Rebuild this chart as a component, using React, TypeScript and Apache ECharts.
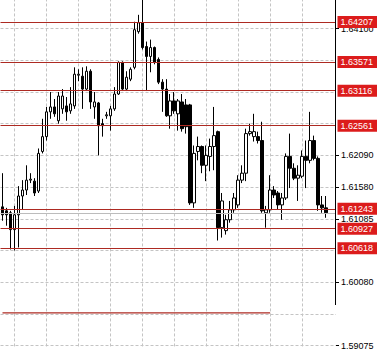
import React, { useEffect, useRef } from 'react';
import * as echarts from 'echarts';

// OHLC values (oldest -> newest)
const opens = [
  1.61274, 1.61211, 1.61180, 1.60913, 1.61148, 1.61446, 1.61541, 1.61698, 1.61682, 1.61525,
  1.62153, 1.62388, 1.62781, 1.62859, 1.62640, 1.62828, 1.62875, 1.62797, 1.62875, 1.63362,
  1.63346, 1.63142, 1.63425, 1.62859, 1.62922, 1.62593, 1.62718, 1.62718, 1.62828, 1.63064,
  1.63566, 1.63142, 1.63299, 1.63487, 1.64053, 1.64194, 1.63817, 1.63660, 1.63801, 1.63613,
  1.63252, 1.63142, 1.62718, 1.62954, 1.62750, 1.62938, 1.62891, 1.62891, 1.61337, 1.62153,
  1.62231, 1.61933, 1.62074, 1.62231, 1.62467, 1.60944, 1.60897, 1.61070, 1.61227, 1.61305,
  1.61698, 1.61808, 1.62436, 1.62388, 1.62388, 1.62326, 1.61180, 1.61227, 1.61541, 1.61494,
  1.61305, 1.61415, 1.62074, 1.61886, 1.61729, 1.61760, 1.62074, 1.62012, 1.62326, 1.62043,
  1.61305, 1.61258,
];
const closes = [
  1.61148, 1.61148, 1.60913, 1.61148, 1.61446, 1.61541, 1.61698, 1.61713, 1.61494, 1.62122,
  1.62388, 1.62781, 1.62859, 1.62750, 1.63032, 1.63032, 1.62781, 1.62907, 1.63378, 1.63378,
  1.63142, 1.63425, 1.62938, 1.62938, 1.62561, 1.62561, 1.62734, 1.62828, 1.63064, 1.63566,
  1.63142, 1.63330, 1.63456, 1.64084, 1.64194, 1.63801, 1.63660, 1.63801, 1.63566, 1.63252,
  1.63142, 1.62718, 1.62954, 1.62797, 1.62954, 1.62514, 1.62545, 1.61337, 1.62122, 1.62231,
  1.61933, 1.62090, 1.62231, 1.62404, 1.60944, 1.61368, 1.61070, 1.61227, 1.61415, 1.61698,
  1.61808, 1.62436, 1.62467, 1.62467, 1.62326, 1.61211, 1.61227, 1.61541, 1.61462, 1.61305,
  1.61415, 1.62074, 1.61886, 1.61729, 1.61776, 1.62074, 1.62012, 1.62326, 1.62043, 1.61305,
  1.61258, 1.61180,
];
const lows = [
  1.61054, 1.60975, 1.60599, 1.60583, 1.60630, 1.61227, 1.61462, 1.61651, 1.61446, 1.61494,
  1.62122, 1.62326, 1.62671, 1.62702, 1.62593, 1.62750, 1.62640, 1.62750, 1.62828, 1.63268,
  1.62828, 1.63111, 1.62828, 1.62671, 1.62090, 1.62388, 1.62671, 1.62483, 1.62797, 1.63048,
  1.63111, 1.63111, 1.63268, 1.63456, 1.64021, 1.63770, 1.63111, 1.63409, 1.63535, 1.63221,
  1.62781, 1.62702, 1.62514, 1.62750, 1.62483, 1.62467, 1.62436, 1.61305, 1.61258, 1.62012,
  1.61808, 1.61682, 1.61839, 1.61855, 1.60740, 1.60787, 1.60834, 1.61023, 1.61180, 1.61258,
  1.61651, 1.61682, 1.62404, 1.62310, 1.62279, 1.61180, 1.60944, 1.61180, 1.61415, 1.61227,
  1.61070, 1.61384, 1.61572, 1.61698, 1.61368, 1.61729, 1.61572, 1.61965, 1.62012, 1.61211,
  1.61180, 1.61101,
];
const highs = [
  1.61808, 1.61258, 1.61211, 1.61289, 1.61603, 1.61698, 1.61933, 1.61808, 1.61729, 1.62200,
  1.62671, 1.62859, 1.63095, 1.62985, 1.63095, 1.63142, 1.63016, 1.63173, 1.63487, 1.63456,
  1.63487, 1.63503, 1.63456, 1.63095, 1.62938, 1.62671, 1.62781, 1.62875, 1.63173, 1.63582,
  1.63582, 1.63425, 1.63487, 1.64210, 1.64320, 1.64560, 1.63896, 1.63927, 1.63817, 1.63644,
  1.63299, 1.63299, 1.63064, 1.63095, 1.62985, 1.63064, 1.62985, 1.62907, 1.62247, 1.62388,
  1.62247, 1.62247, 1.62357, 1.62859, 1.62483, 1.61494, 1.61148, 1.61368, 1.61494, 1.61776,
  1.61933, 1.62514, 1.62593, 1.62750, 1.62467, 1.62624, 1.61289, 1.61776, 1.61603, 1.61525,
  1.61494, 1.62122, 1.62436, 1.61965, 1.61933, 1.62169, 1.62326, 1.62781, 1.62404, 1.62074,
  1.61446, 1.61446,
];

// price scale: grid lines, and the labels that are visible (others hidden under level tags)
const gridValues = [1.641, 1.63598, 1.63095, 1.62593, 1.6209, 1.61588, 1.61085, 1.60583, 1.6008, 1.59578, 1.59075];
const gridLabels = ['1.64100', '', '', '', '1.62090', '1.61580', '1.61085', '', '1.60080', '', '1.59075'];
const yMin = 1.5906;
const yMax = 1.64555;

// horizontal price levels
const levelValues = [1.64207, 1.63571, 1.63116, 1.62561, 1.61243, 1.60927, 1.60618];
const trendValue = 1.59593;
const trendStart = 0;
const trendEnd = 67;

// vertical grid (bar indexes)
const vGridIndexes = [3, 11, 19, 27, 35, 43, 51, 59, 67, 75];
const slotCount = 84;
const categories = Array.from({ length: slotCount }, (_, i) => String(i));

export default function App() {
  const ref = useRef<HTMLDivElement>(null);
  useEffect(() => {
    if (!ref.current) return;
    const chart = echarts.init(ref.current, undefined, { renderer: 'svg' });
    const candleData = opens.map((o, i) => [o, closes[i], lows[i], highs[i]]);
    const labelled = gridValues.filter((_, i) => gridLabels[i] !== '');
    const lastClose = closes[closes.length - 1];
    const trendData = categories.map((_, i) => (i === trendStart || i === trendEnd ? trendValue : null));
    const font = 'Liberation Sans, Arial, sans-serif';
    const levelColor = '#ad2a22';
    chart.setOption({
      animation: false,
      backgroundColor: '#ffffff',
      grid: { left: 0.5, top: 0, width: 335.5, height: 350 },
      xAxis: { type: 'category', data: categories, boundaryGap: true, show: false },
      yAxis: {
        type: 'value',
        position: 'right',
        min: yMin,
        max: yMax,
        axisLine: { show: false },
        axisTick: { show: true, customValues: labelled, length: 3, lineStyle: { color: '#000' } },
        axisLabel: {
          customValues: labelled,
          margin: 5,
          fontSize: 9,
          color: '#000',
          fontFamily: font,
          formatter: (v: number) => {
            const i = gridValues.findIndex((g) => Math.abs(g - v) < 1e-7);
            return i >= 0 ? gridLabels[i] : '';
          },
        },
        splitLine: { show: false },
      },
      series: [
        {
          type: 'line',
          data: [],
          silent: true,
          markLine: {
            z: 1,
            silent: true,
            symbol: 'none',
            precision: 5,
            label: { show: false },
            lineStyle: { color: '#c4c4c4', type: [3, 2], width: 1 },
            data: [
              ...gridValues.map((v) => ({ yAxis: v })),
              ...vGridIndexes.map((k) => ({ xAxis: String(k) })),
            ],
          },
        },
        {
          type: 'candlestick',
          z: 3,
          barWidth: 3,
          data: candleData,
          itemStyle: {
            color: '#ffffff',
            color0: '#000000',
            borderColor: '#000000',
            borderColor0: '#000000',
            borderWidth: 1,
          },
        },
        {
          type: 'line',
          data: [],
          silent: true,
          markLine: {
            z: 4,
            silent: true,
            symbol: 'none',
            precision: 5,
            label: { show: false },
            lineStyle: { color: '#bcbcbc', type: 'solid', width: 1 },
            data: [{ yAxis: lastClose }],
          },
        },
        {
          type: 'line',
          z: 6,
          silent: true,
          data: trendData,
          connectNulls: true,
          showSymbol: false,
          symbol: 'none',
          lineStyle: { color: levelColor, width: 1.2 },
          itemStyle: { color: levelColor },
        },
        {
          type: 'line',
          data: [],
          silent: true,
          markLine: {
            z: 6,
            silent: true,
            symbol: 'none',
            precision: 5,
            lineStyle: { color: levelColor, type: 'solid', width: 1.2 },
            label: {
              show: true,
              position: 'end',
              distance: 1.5,
              formatter: (p: any) => Number(p.value).toFixed(5),
              color: '#ffffff',
              backgroundColor: '#dc1c1c',
              fontSize: 9,
              fontFamily: font,
              lineHeight: 10,
              padding: [1, 10, 1, 3],
            },
            data: levelValues.map((v) => ({ yAxis: v })),
          },
        },
      ],
      graphic: [
        {
          type: 'line',
          z: 10,
          shape: { x1: 335.5, y1: 0, x2: 335.5, y2: 305 },
          style: { stroke: '#000000', lineWidth: 1 },
        },
      ],
    });
    return () => chart.dispose();
  }, []);
  return (
    <div
      ref={ref}
      style={{ position: 'fixed', left: 0, top: 0, width: 377, height: 350, background: '#fff' }}
    />
  );
}
